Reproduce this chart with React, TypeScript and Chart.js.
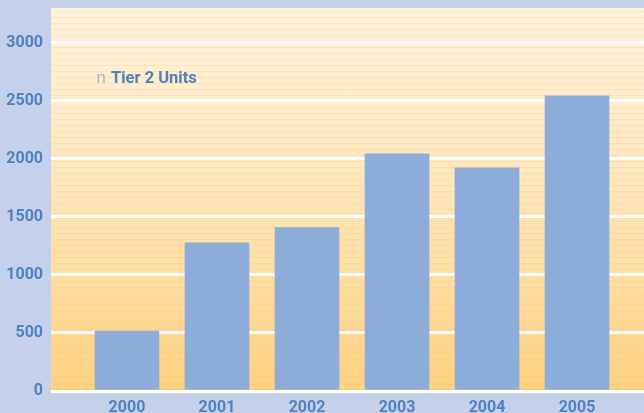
import React, { useEffect, useRef } from "react";
import { Chart, registerables } from "chart.js";

Chart.register(...registerables);

const categories = ["2000", "2001", "2002", "2003", "2004", "2005"];
const tier2Units = [517, 1276, 1408, 2043, 1922, 2543];
const seriesLabel = "Tier 2 Units";
const legendMarker = "n";
const yTicks = [0, 500, 1000, 1500, 2000, 2500, 3000];

const BLUE_TEXT = "#4f80c2";

const bgPlugin = {
  id: "bgPlugin",
  beforeDraw(chart: any) {
    const { ctx, chartArea: a, width, height } = chart;
    ctx.save();
    ctx.fillStyle = "#c5d1eb";
    ctx.fillRect(0, 0, width, height);
    const g = ctx.createLinearGradient(0, a.top, 0, a.bottom);
    g.addColorStop(0, "#fff2da");
    g.addColorStop(0.5, "#fee5b6");
    g.addColorStop(1, "#fed27f");
    ctx.fillStyle = g;
    ctx.fillRect(a.left, a.top, a.right - a.left, a.bottom - a.top);
    ctx.strokeStyle = "rgba(225,190,150,0.2)";
    ctx.lineWidth = 1;
    for (let y = a.top + 3.5; y < a.bottom; y += 6) {
      ctx.beginPath();
      ctx.moveTo(a.left, y);
      ctx.lineTo(a.right, y);
      ctx.stroke();
    }
    ctx.restore();
  },
  afterDraw(chart: any) {
    const { ctx } = chart;
    ctx.save();
    ctx.textBaseline = "alphabetic";
    ctx.font = "17px 'Liberation Mono', 'DejaVu Sans Mono', monospace";
    ctx.fillStyle = "#a3b5d3";
    ctx.fillText(legendMarker, 96, 83);
    ctx.font = "bold 16.5px Roboto, 'DejaVu Sans', sans-serif";
    ctx.fillStyle = BLUE_TEXT;
    ctx.fillText(seriesLabel, 111, 83);
    ctx.restore();
  },
};

export default function App() {
  const ref = useRef<HTMLCanvasElement>(null);
  useEffect(() => {
    if (!ref.current) return;
    const chart = new Chart(ref.current, {
      type: "bar",
      data: {
        datasets: [
          {
            label: seriesLabel,
            data: tier2Units.map((v, i) => ({ x: i, y: v })),
            backgroundColor: "#8eacd9",
            borderWidth: 0,
            barThickness: 64,
          },
        ],
      },
      options: {
        animation: false,
        responsive: false,
        maintainAspectRatio: false,
        layout: { padding: { top: 8, right: 0, left: 0, bottom: 0 } },
        plugins: { legend: { display: false }, tooltip: { enabled: false } },
        scales: {
          x: {
            type: "linear",
            min: -0.844,
            max: 5.744,
            offset: false,
            grid: { display: false, drawTicks: false },
            border: { display: false },
            afterBuildTicks: (s: any) => {
              s.ticks = categories.map((_, i) => ({ value: i }));
            },
            afterFit: (s: any) => {
              s.height = 22;
              s.paddingLeft = 0;
              s.paddingRight = 0;
            },
            ticks: {
              autoSkip: false,
              maxRotation: 0,
              padding: 7,
              color: BLUE_TEXT,
              font: { family: "Roboto, 'DejaVu Sans', sans-serif", size: 16, weight: "bold" },
              callback: (v: any) => categories[Math.round(Number(v))] ?? "",
            },
          },
          y: {
            min: 0,
            max: 3300,
            grid: { color: "#ffffff", lineWidth: 3, drawTicks: false },
            border: { display: false },
            afterBuildTicks: (s: any) => {
              s.ticks = yTicks.map((v) => ({ value: v }));
            },
            afterFit: (s: any) => {
              s.width = 51;
              s.paddingTop = 0;
              s.paddingBottom = 0;
            },
            ticks: {
              padding: 8,
              color: BLUE_TEXT,
              font: { family: "Roboto, 'DejaVu Sans', sans-serif", size: 16, weight: "bold" },
              callback: (v: any) => String(v),
            },
          },
        },
      },
      plugins: [bgPlugin],
    } as any);
    return () => chart.destroy();
  }, []);
  return (
    <div style={{ position: "fixed", left: 0, top: 0, width: 644, height: 413 }}>
      <canvas ref={ref} width={644} height={413} style={{ display: "block" }} />
    </div>
  );
}
